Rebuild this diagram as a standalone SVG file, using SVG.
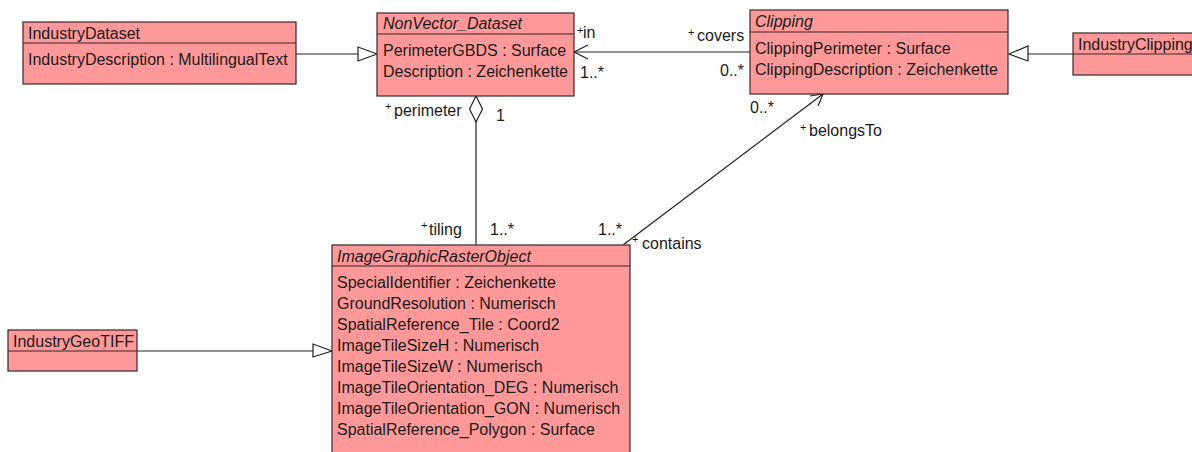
<svg xmlns="http://www.w3.org/2000/svg" width="1192" height="452" viewBox="0 0 1192 452">
<defs>
<style>
.box{fill:#ff9999;stroke:#3a2626;stroke-width:1.2}
.div{stroke:#3a2626;stroke-width:1.2}
text{font-family:"Liberation Sans",Arial,sans-serif;font-size:16px;fill:#1a1a1a}
.it{font-style:italic}
.pl{font-size:11px}
.ln{fill:none;stroke:#222;stroke-width:1.2}
.tri{fill:#fff;stroke:#222;stroke-width:1.2}
</style>
</defs>
<rect width="1192" height="452" fill="#fff"/>
<g id="connectors">
<line class="ln" x1="296" y1="54" x2="358" y2="54"/>
<polygon class="tri" points="377,54 358,47 358,61"/>
<line class="ln" x1="1073" y1="54" x2="1028" y2="54"/>
<polygon class="tri" points="1009,54 1028,46 1028,61"/>
<line class="ln" x1="137" y1="351" x2="313" y2="351"/>
<polygon class="tri" points="332,351 313,344 313,357"/>
<line class="ln" x1="750" y1="52" x2="574" y2="52"/>
<polyline class="ln" points="588,45 574,52 588,59"/>
<line class="ln" x1="476" y1="122" x2="476" y2="245"/>
<polygon class="tri" points="476,96 482.5,109 476,122 469.5,109"/>
<line class="ln" x1="623" y1="245" x2="823" y2="94"/>
<polyline class="ln" points="810,96 823,94 818,106"/>
</g>
<g id="labels">
<text x="577" y="34"><tspan class="pl">+</tspan><tspan x="583" y="38">in</tspan></text>
<text x="580" y="78">1..*</text>
<text x="688" y="36"><tspan class="pl">+</tspan><tspan x="697" y="41">covers</tspan></text>
<text x="720" y="76">0..*</text>
<text x="385" y="110"><tspan class="pl">+</tspan><tspan x="394" y="116">perimeter</tspan></text>
<text x="496" y="121">1</text>
<text x="750" y="113">0..*</text>
<text x="800" y="131"><tspan class="pl">+</tspan><tspan x="809" y="136">belongsTo</tspan></text>
<text x="421" y="229"><tspan class="pl">+</tspan><tspan x="429" y="235">tiling</tspan></text>
<text x="490" y="235">1..*</text>
<text x="598" y="235">1..*</text>
<text x="632" y="243"><tspan class="pl">+</tspan><tspan x="642" y="249">contains</tspan></text>
</g>
<g id="IndustryDataset">
<rect class="box" x="23" y="22" width="273" height="62"/>
<line class="div" x1="23" y1="43" x2="296" y2="43"/>
<text x="28" y="39">IndustryDataset</text>
<text x="28" y="65">IndustryDescription : MultilingualText</text>
</g>
<g id="NonVector_Dataset">
<rect class="box" x="377" y="13" width="197" height="83"/>
<line class="div" x1="377" y1="34" x2="574" y2="34"/>
<text class="it" x="383" y="29">NonVector_Dataset</text>
<text x="383" y="56">PerimeterGBDS : Surface</text>
<text x="383" y="77">Description : Zeichenkette</text>
</g>
<g id="Clipping">
<rect class="box" x="750" y="10" width="258" height="84"/>
<line class="div" x1="750" y1="32" x2="1008" y2="32"/>
<text class="it" x="755" y="27">Clipping</text>
<text x="755" y="54">ClippingPerimeter : Surface</text>
<text x="755" y="75">ClippingDescription : Zeichenkette</text>
</g>
<g id="IndustryClipping">
<rect class="box" x="1073" y="33" width="140" height="42"/>
<line class="div" x1="1073" y1="54" x2="1213" y2="54"/>
<text x="1078" y="50">IndustryClipping</text>
</g>
<g id="IndustryGeoTIFF">
<rect class="box" x="8" y="330" width="129" height="41"/>
<line class="div" x1="8" y1="351" x2="137" y2="351"/>
<text x="13" y="347">IndustryGeoTIFF</text>
</g>
<g id="ImageGraphicRasterObject">
<rect class="box" x="332" y="245" width="298" height="220"/>
<line class="div" x1="332" y1="266" x2="630" y2="266"/>
<text class="it" x="337" y="262">ImageGraphicRasterObject</text>
<text x="337" y="288">SpecialIdentifier : Zeichenkette</text>
<text x="337" y="309">GroundResolution : Numerisch</text>
<text x="337" y="330">SpatialReference_Tile : Coord2</text>
<text x="337" y="351">ImageTileSizeH : Numerisch</text>
<text x="337" y="372">ImageTileSizeW : Numerisch</text>
<text x="337" y="393">ImageTileOrientation_DEG : Numerisch</text>
<text x="337" y="414">ImageTileOrientation_GON : Numerisch</text>
<text x="337" y="435">SpatialReference_Polygon : Surface</text>
</g>
</svg>
